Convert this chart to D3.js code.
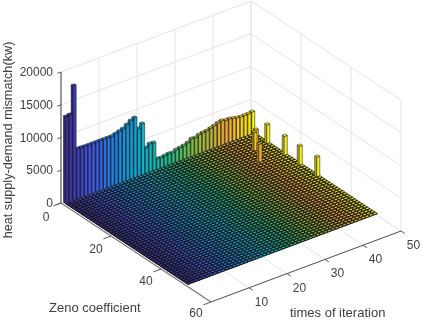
<!DOCTYPE html>
<html>
<head>
<meta charset="utf-8">
<script src="https://cdn.jsdelivr.net/npm/d3@7"></script>
<style>
  html, body { margin: 0; padding: 0; background: #fff; }
  text { font-family: "Liberation Sans", Arial, sans-serif; fill: #404040; }
</style>
</head>
<body>
<div id="chart"></div>
<script>
// iterations and zeno coefficients of the bars
var iterations = d3.range(1, 51);
var zenos = d3.range(1, 51);

// first row of bars (zeno = 1), one value for each iteration
var firstRow = [13200, 13300, 17500, 7650, 7650, 7600, 7600, 7600, 7600, 7600,
                7600, 7600, 7600, 7770, 7940, 8100, 8500, 8900, 9130, 7240,
                7790, 3900, 4300, 4230, 1570, 1510, 1600, 1700, 1620, 1860,
                1950, 2050, 2280, 2670, 2610, 2850, 2950, 3020, 3190, 3360,
                3600, 3700, 3540, 3560, 3420, 3280, 3220, 3220, 3240, 3330];

// the few bars that stand out of the floor
var spikeIteration = [50, 50, 50, 50, 47, 46, 44];
var spikeZeno = [7, 14, 20, 27, 7, 8, 13];
var spikeValue = [2900, 2900, 2900, 3000, 2750, 2800, 2750];

var floorValue = 40;

var xTicks = [10, 20, 30, 40, 50];
var yTicks = [0, 20, 40, 60];
var zTicks = [0, 5000, 10000, 15000, 20000];

var width = 422, height = 320;
var origin = {x: 61, y: 203};

// oblique projection, each data axis gets its own screen x and y scale
var tX = d3.scaleLinear().domain([0, 50]).range([0, 190]);
var tY = d3.scaleLinear().domain([0, 50]).range([0, -71]);
var zX = d3.scaleLinear().domain([0, 60]).range([0, 150]);
var zY = d3.scaleLinear().domain([0, 60]).range([0, 99]);
var vY = d3.scaleLinear().domain([0, 20000]).range([0, -131]);

function project(t, z, v) {
  return [origin.x + tX(t) + zX(z), origin.y + tY(t) + zY(z) + vY(v)];
}

// parula style colours, from low to high iteration
var color = d3.scaleLinear()
  .domain([0, 0.14, 0.28, 0.42, 0.56, 0.7, 0.86, 1].map(function(d) { return d * 50; }))
  .range(["#3b2a8c", "#4352e0", "#1f86e0", "#0fb0d0", "#22bb88", "#8cbc3e", "#f0a838", "#f8f018"]);

var svg = d3.select("#chart").append("svg")
  .attr("width", width)
  .attr("height", height)
  .style("display", "block");

var scene = svg.append("g").style("filter", "blur(0.45px)");

function line3d(g, a, b, stroke, w) {
  var p = project(a[0], a[1], a[2]), q = project(b[0], b[1], b[2]);
  g.append("line")
    .attr("x1", p[0]).attr("y1", p[1])
    .attr("x2", q[0]).attr("y2", q[1])
    .attr("stroke", stroke)
    .attr("stroke-width", w);
}

// grid on the walls and the floor
var grid = scene.append("g");
var gridColor = "#e4e4e4";
xTicks.forEach(function(t) {
  line3d(grid, [t, 0, 0], [t, 0, 20000], gridColor, 1);
  line3d(grid, [t, 0, 0], [t, 60, 0], gridColor, 1);
});
yTicks.forEach(function(z) {
  line3d(grid, [50, z, 0], [50, z, 20000], gridColor, 1);
  line3d(grid, [0, z, 0], [50, z, 0], gridColor, 1);
});
zTicks.forEach(function(v) {
  line3d(grid, [0, 0, v], [50, 0, v], gridColor, 1);
  line3d(grid, [50, 0, v], [50, 60, v], gridColor, 1);
});

// table of all bars
var bars = [];
zenos.forEach(function(z) {
  iterations.forEach(function(t, i) {
    var v = floorValue;
    if (z === 1) v = firstRow[i];
    spikeValue.forEach(function(s, k) {
      if (spikeIteration[k] === t && spikeZeno[k] === z) v = s;
    });
    bars.push({t: t, z: z, v: v});
  });
});

// far rows first so the near ones paint over them
bars.sort(function(a, b) { return a.z - b.z || b.t - a.t; });

var half = 0.4;
var zShift = -0.5; // rows sit half a step towards the wall
function face(d, pts) {
  return "M" + pts.map(function(p) {
    return project(d.t + p[0] * half, d.z + zShift + p[1] * half, p[2] * d.v).join(",");
  }).join("L") + "Z";
}

var barG = scene.append("g")
  .attr("stroke", "#0c0c0c")
  .attr("stroke-linejoin", "round");

var bar = barG.selectAll("g")
  .data(bars)
  .enter().append("g")
    // the flat cells read as dots in dark edges, the tall bars less so
    .attr("stroke-width", function(d) { return d.v > floorValue ? 0.5 : 0.7; });

// side facing the low iterations, a bit darker
bar.append("path")
  .attr("fill", function(d) { return d3.color(color(d.t)).darker(0.7); })
  .attr("d", function(d) {
    return face(d, [[-1, -1, 0], [-1, 1, 0], [-1, 1, 1], [-1, -1, 1]]);
  });

// side facing the high zeno values
bar.append("path")
  .attr("fill", function(d) { return color(d.t); })
  .attr("d", function(d) {
    return face(d, [[-1, 1, 0], [1, 1, 0], [1, 1, 1], [-1, 1, 1]]);
  });

// top
bar.append("path")
  .attr("fill", function(d) { return color(d.t); })
  .attr("d", function(d) {
    return face(d, [[-1, -1, 1], [1, -1, 1], [1, 1, 1], [-1, 1, 1]]);
  });

// axis lines
var axisColor = "#555";
var axes = scene.append("g");
line3d(axes, [0, 0, 0], [0, 0, 20000], axisColor, 1.2);
line3d(axes, [0, 0, 0], [0, 60, 0], "#777", 1.3);
line3d(axes, [0, 60, 0], [50, 60, 0], axisColor, 1);

// ticks
zTicks.forEach(function(v) { line3d(axes, [0, 0, v], [-1, 0, v], axisColor, 1); });
yTicks.forEach(function(z) { line3d(axes, [0, z, 0], [-2, z, 0], axisColor, 1); });
xTicks.forEach(function(t) { line3d(axes, [t, 60, 0], [t, 61.5, 0], axisColor, 1); });

// tick labels
var labels = scene.append("g").attr("font-size", 12);
zTicks.forEach(function(v) {
  var p = project(0, 0, v);
  labels.append("text").attr("x", p[0] - 8).attr("y", p[1] + 4)
    .attr("text-anchor", "end").text(v);
});
yTicks.forEach(function(z) {
  var p = project(0, z, 0);
  labels.append("text").attr("x", p[0] - 15).attr("y", p[1] + 18 - z / 20)
    .attr("text-anchor", "middle").text(z);
});
xTicks.forEach(function(t) {
  var p = project(t, 60, 0);
  labels.append("text").attr("x", p[0] + 12.5).attr("y", p[1] + 18)
    .attr("text-anchor", "middle").text(t);
});

// axis titles
labels.append("text").attr("x", 49).attr("y", 312).attr("font-size", 13).text("Zeno coefficient");
labels.append("text").attr("x", 290).attr("y", 317).attr("font-size", 13).text("times of iteration");
labels.append("text")
  .attr("transform", "translate(12,140) rotate(-90)")
  .attr("text-anchor", "middle")
  .attr("font-size", 12.7)
  .text("heat supply-demand mismatch(kw)");
</script>
</body>
</html>
